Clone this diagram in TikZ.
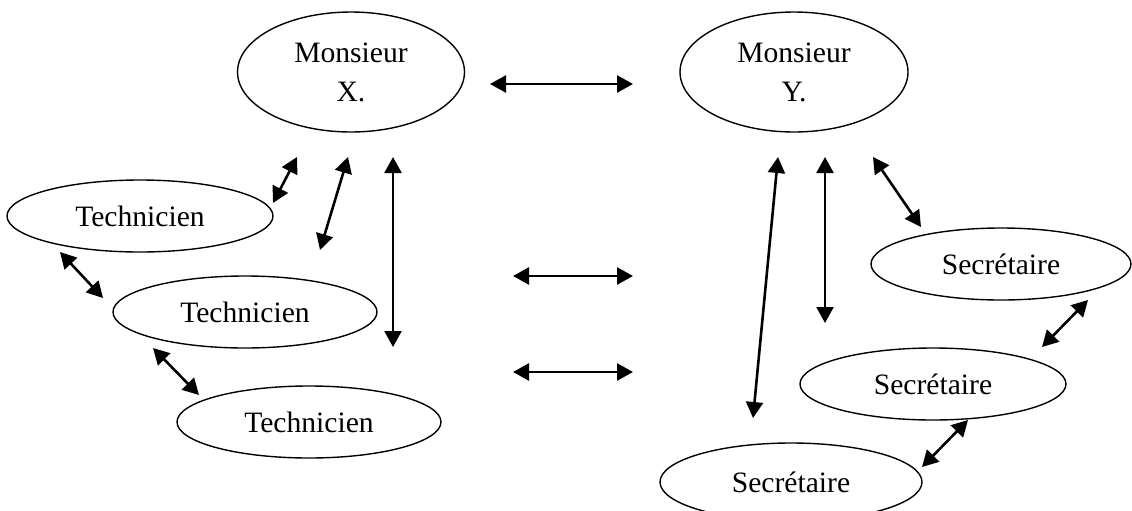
\documentclass[tikz,border=0pt]{standalone}
\usepackage{fontspec}
\setmainfont{Liberation Serif}
\usetikzlibrary{shapes.geometric,arrows.meta}
\begin{document}
\begin{tikzpicture}[x=0.5pt,y=-0.5pt,
  role/.style={ellipse,draw,line width=0.7pt,inner sep=0pt,align=center,
    font=\fontsize{14.8}{19.5}\selectfont},
  link/.style={line width=1.3pt,{Triangle[length=8pt,width=8.5pt]}-{Triangle[length=8pt,width=8.5pt]}}]
\useasboundingbox (0,0) rectangle (1132,510);

% persons
\node[role,minimum width=113.5pt,minimum height=60pt] (mx) at (351,72) {Monsieur\\X.};
\node[role,minimum width=114pt,minimum height=60pt] (my) at (794,72) {Monsieur\\Y.};

% technicians
\node[role,minimum width=133pt,minimum height=36pt] (t1) at (140,216) {Technicien};
\node[role,minimum width=132pt,minimum height=36pt] (t2) at (245,312) {Technicien};
\node[role,minimum width=132pt,minimum height=36pt] (t3) at (309,422) {Technicien};

% secretaries
\node[role,minimum width=130pt,minimum height=36pt] (s1) at (1001,264) {Secrétaire};
\node[role,minimum width=133pt,minimum height=36pt] (s2) at (933,384) {Secrétaire};
\node[role,minimum width=131pt,minimum height=39pt] (s3) at (791,482) {Secrétaire};

% arrow end points
\coordinate (a1) at (490,84);   \coordinate (b1) at (633,84);
\coordinate (a2) at (513,276);  \coordinate (b2) at (633,276);
\coordinate (a3) at (513,372);  \coordinate (b3) at (633,372);
\coordinate (a4) at (273,203);  \coordinate (b4) at (297,157);
\coordinate (a5) at (320,250);  \coordinate (b5) at (348,157);
\coordinate (a6) at (393,347);  \coordinate (b6) at (393,157);
\coordinate (a7) at (60,252);   \coordinate (b7) at (103,298);
\coordinate (a8) at (153,348);  \coordinate (b8) at (199,395);
\coordinate (a9) at (778,157);  \coordinate (b9) at (753,418);
\coordinate (a10) at (825,157); \coordinate (b10) at (825,323);
\coordinate (a11) at (873,157); \coordinate (b11) at (921,227);
\coordinate (a12) at (1088,300);\coordinate (b12) at (1042,347);
\coordinate (a13) at (968,420); \coordinate (b13) at (922,467);

\foreach \i in {1,...,13} \draw[link] (a\i) -- (b\i);
\end{tikzpicture}
\end{document}
